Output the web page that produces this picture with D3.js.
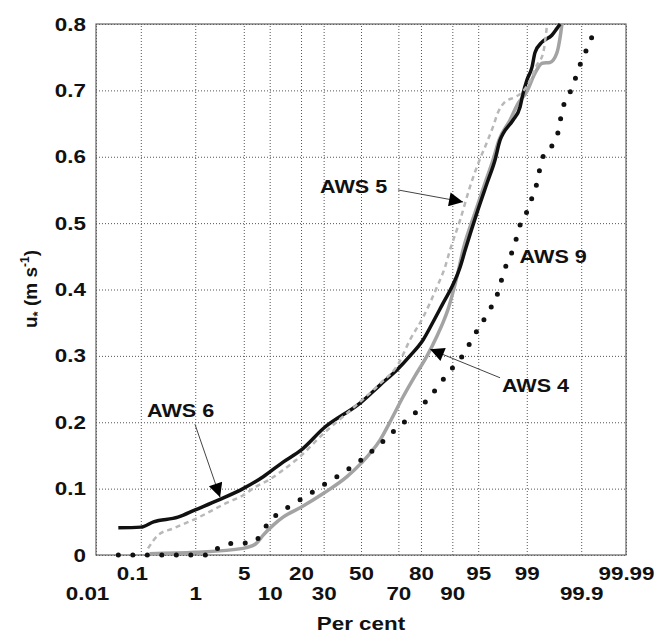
<!DOCTYPE html>
<html>
<head>
<meta charset="utf-8">
<script src="https://cdn.jsdelivr.net/npm/d3@7"></script>
<style>
  body { margin: 0; background: #fff; }
  svg text { font-family: "Liberation Sans", Arial, sans-serif; font-weight: bold; fill: #111; }
  /* the reference lettering is a little wider than plain Arial */
  .wide   { transform-box: fill-box; transform-origin: center;        transform: scaleX(1.18); }
  .wideR  { transform-box: fill-box; transform-origin: right center;  transform: scaleX(1.18); }
  .wideL  { transform-box: fill-box; transform-origin: left center;   transform: scaleX(1.2); }
</style>
</head>
<body>
<div id="chart"></div>
<script>
// probability axis ticks (per cent) and u* ticks
var xTicks = [0.01, 0.1, 1, 5, 10, 20, 30, 50, 70, 80, 90, 95, 99, 99.9, 99.99],
	xTickRow = [1, 0, 1, 0, 1, 0, 1, 0, 1, 0, 1, 0, 0, 1, 0], // 0 = upper row, 1 = lower row
	yTicks = [0, 0.1, 0.2, 0.3, 0.4, 0.5, 0.6, 0.7, 0.8];

// AWS 6 : black solid
var aws6Pct = [0.033, 0.1, 0.18, 0.51, 1, 2.3, 4.9, 8.5, 13.7, 20, 30, 50, 60.5, 70, 75.4, 80.8, 84.4, 87.5, 89.9, 91.8, 92.8, 94.8, 96.15, 97.0, 97.45, 97.7, 98.35, 98.72, 98.85, 99, 99.18, 99.27, 99.45, 99.63, 99.70, 99.74],
	aws6U   = [0.041, 0.042, 0.05, 0.057, 0.068, 0.083, 0.10, 0.118, 0.14, 0.158, 0.191, 0.23, 0.256, 0.281, 0.30, 0.324, 0.351, 0.379, 0.404, 0.434, 0.459, 0.515, 0.56, 0.595, 0.625, 0.635, 0.655, 0.675, 0.695, 0.715, 0.735, 0.757, 0.773, 0.783, 0.793, 0.80];

// AWS 4 : grey solid
var aws4Pct = [0.15, 1, 4.9, 7.0, 8.5, 10.9, 13.7, 20, 30, 42.2, 50, 60.5, 66.8, 72.2, 77.6, 82.3, 85.7, 87.5, 88.9, 89.9, 91.3, 92.4, 94.5, 95.9, 96.8, 97.36, 98.17, 98.62, 99, 99.27, 99.45, 99.60, 99.70, 99.74, 99.76],
	aws4U   = [0.002, 0.004, 0.01, 0.017, 0.03, 0.045, 0.057, 0.072, 0.093, 0.118, 0.138, 0.173, 0.206, 0.238, 0.27, 0.30, 0.33, 0.35, 0.37, 0.39, 0.425, 0.46, 0.515, 0.56, 0.595, 0.625, 0.655, 0.68, 0.698, 0.726, 0.741, 0.742, 0.756, 0.78, 0.80];

// AWS 5 : light grey dashed
var aws5Pct = [0.14, 0.22, 0.42, 1.15, 1.9, 2.9, 4.9, 7.0, 9.8, 13.7, 18.1, 30, 50, 60.5, 70, 75.4, 80.8, 85.7, 88.1, 89.4, 91.8, 93.7, 95.0, 96.15, 96.8, 97.28, 97.8, 98.47, 98.81, 99.12, 99.32, 99.47, 99.55],
	aws5U   = [0.01, 0.03, 0.04, 0.057, 0.068, 0.078, 0.09, 0.103, 0.113, 0.128, 0.143, 0.183, 0.232, 0.258, 0.288, 0.324, 0.358, 0.404, 0.434, 0.459, 0.505, 0.555, 0.59, 0.622, 0.645, 0.667, 0.682, 0.69, 0.697, 0.715, 0.738, 0.756, 0.80];

// AWS 9 : black dotted
var aws9Pct = [0.033, 1.65, 2.5, 4.0, 6.1, 8.0, 9.6, 12.2, 15.3, 19.6, 29.2, 39.5, 50, 60.5, 69.3, 77.6, 84.0, 88.9, 92.8, 94.2, 95.5, 96.4, 97.1, 97.5, 97.8, 98.2, 98.5, 98.7, 99.0, 99.18, 99.32, 99.40, 99.49, 99.68, 99.73, 99.76, 99.82, 99.86, 99.89, 99.92, 99.94],
	aws9U   = [0, 0, 0.014, 0.018, 0.018, 0.03, 0.048, 0.062, 0.072, 0.083, 0.104, 0.123, 0.143, 0.167, 0.191, 0.214, 0.242, 0.274, 0.306, 0.328, 0.349, 0.369, 0.387, 0.41, 0.43, 0.45, 0.473, 0.495, 0.517, 0.538, 0.56, 0.583, 0.604, 0.624, 0.645, 0.669, 0.691, 0.712, 0.735, 0.759, 0.78];

// labels: [text, text pct, text u, arrow tail pct, tail u, arrow tip pct, tip u]
var notes = [
	["AWS 5", 28.3, 0.545, 69.8, 0.55, 92.4, 0.532],
	["AWS 9", 98.7, 0.44, null, null, null, null],
	["AWS 6", 0.134, 0.208, 0.99, 0.197, 2.4, 0.087],
	["AWS 4", 97.6, 0.245, 97.45, 0.267, 83.4, 0.31]
];

var W = 655, H = 635,
	margin = {top: 24, right: 29, bottom: 80, left: 96},
	w = W - margin.left - margin.right,
	h = H - margin.top - margin.bottom;

// inverse normal cdf (Acklam)
function probit(p){
	var a = [-39.69683028665376, 220.9460984245205, -275.9285104469687, 138.3577518672690, -30.66479806614716, 2.506628277459239],
		b = [-54.47609879822406, 161.5858368580409, -155.6989798598866, 66.80131188771972, -13.28068155288572],
		c = [-0.007784894002430293, -0.3223964580411365, -2.400758277161838, -2.549732539343734, 4.374664141464968, 2.938163982698783],
		d = [0.007784695709041462, 0.3224671290700398, 2.445134137142996, 3.754408661907416],
		pl = 0.02425, q, r
	if (p < pl){
		q = Math.sqrt(-2 * Math.log(p))
		return (((((c[0]*q+c[1])*q+c[2])*q+c[3])*q+c[4])*q+c[5]) / ((((d[0]*q+d[1])*q+d[2])*q+d[3])*q+1)
	}
	if (p > 1 - pl){
		q = Math.sqrt(-2 * Math.log(1 - p))
		return -(((((c[0]*q+c[1])*q+c[2])*q+c[3])*q+c[4])*q+c[5]) / ((((d[0]*q+d[1])*q+d[2])*q+d[3])*q+1)
	}
	q = p - 0.5; r = q * q
	return (((((a[0]*r+a[1])*r+a[2])*r+a[3])*r+a[4])*r+a[5])*q / (((((b[0]*r+b[1])*r+b[2])*r+b[3])*r+b[4])*r+1)
}

var xz = d3.scaleLinear().domain([probit(0.0001), probit(0.9999)]).range([0, w]),
	x = function(pct){ return xz(probit(pct / 100)) },
	y = d3.scaleLinear().domain([0, 0.8]).range([h, 0]);

var svg = d3.select("#chart").append("svg")
	.attr("width", W)
	.attr("height", H)

var g = svg.append("g").attr("transform", "translate(" + margin.left + "," + margin.top + ")")

// grid
g.append("g")
	.attr("class", "grid")
	.attr("transform", "translate(0," + h + ")")
	.call(d3.axisBottom(xz).tickValues(xTicks.map(function(p){ return probit(p / 100) })).tickSize(-h).tickFormat(""))
g.append("g")
	.attr("class", "grid")
	.call(d3.axisLeft(y).tickValues(yTicks).tickSize(-w).tickFormat(""))
g.selectAll(".grid .domain").remove()
g.selectAll(".grid line")
	.attr("stroke", "#555")
	.attr("stroke-width", 1)
	.attr("stroke-dasharray", "1,2")

// frame
g.append("rect")
	.attr("width", w)
	.attr("height", h)
	.attr("fill", "none")
	.attr("stroke", "#666")
	.attr("stroke-width", 1.2)

// x axis labels (two rows)
var xAxis = g.append("g")
	.attr("transform", "translate(0," + h + ")")
	.call(d3.axisBottom(xz).tickValues(xTicks.map(function(p){ return probit(p / 100) }))
		.tickSize(0).tickFormat(function(d, i){ return xTicks[i] }))
xAxis.select(".domain").remove()
xAxis.selectAll("text")
	.attr("class", "wide")
	.attr("font-size", 19)
	.attr("dy", 0)
	.attr("dx", function(d, i){ return xTicks[i] < 1 ? -9 : 0 }) // the two smallest labels sit left of their lines
	.attr("y", function(d, i){ return xTickRow[i] ? 45 : 25 })

var yAxis = g.append("g")
	.call(d3.axisLeft(y).tickValues(yTicks).tickSize(0).tickPadding(10).tickFormat(d3.format("~g")))
yAxis.select(".domain").remove()
yAxis.selectAll("text").attr("class", "wideR").attr("font-size", 19)

svg.append("text")
	.attr("class", "wide")
	.attr("x", margin.left + w / 2)
	.attr("y", 630)
	.attr("text-anchor", "middle")
	.attr("font-size", 19)
	.text("Per cent")

var yTitle = svg.append("text")
	.attr("transform", "translate(37,289) rotate(-90)")
	.attr("text-anchor", "middle")
	.attr("font-size", 19)
yTitle.append("tspan").text("u")
yTitle.append("tspan").attr("font-size", 13).attr("dy", 5).text("*")
yTitle.append("tspan").attr("dy", -5).text(" (m s")
yTitle.append("tspan").attr("font-size", 12).attr("dy", -8).text("-1")
yTitle.append("tspan").attr("dy", 8).text(")")

// series
function series(pct, u){ return pct.map(function(p, i){ return [p, u[i]] }) }
var line = d3.line()
	.curve(d3.curveMonotoneX)
	.x(function(d){ return x(d[0]) })
	.y(function(d){ return y(d[1]) })

var plot = g.append("g")
plot.append("path").datum(series(aws4Pct, aws4U))
	.attr("d", line).attr("fill", "none")
	.attr("stroke", "#a3a3a3").attr("stroke-width", 3.5).attr("stroke-linejoin", "round")
plot.append("path").datum(series(aws6Pct, aws6U))
	.attr("d", line).attr("fill", "none")
	.attr("stroke", "#111").attr("stroke-width", 3.5).attr("stroke-linejoin", "round")
plot.append("path").datum(series(aws5Pct, aws5U))
	.attr("d", line).attr("fill", "none")
	.attr("stroke", "#b8b8b8").attr("stroke-width", 2.5).attr("stroke-dasharray", "5,4")
plot.append("path").datum(series(aws9Pct, aws9U))
	.attr("d", line).attr("fill", "none")
	.attr("stroke", "#111").attr("stroke-width", 5).attr("stroke-linecap", "round")
	.attr("stroke-dasharray", "0,14.5")

// annotations
svg.append("defs").append("marker")
	.attr("id", "head")
	.attr("viewBox", "0 0 10 10")
	.attr("refX", 10).attr("refY", 5)
	.attr("markerWidth", 19).attr("markerHeight", 14)
	.attr("markerUnits", "userSpaceOnUse")
	.attr("orient", "auto")
	.append("path").attr("d", "M0,0 L10,5 L0,10 Z").attr("fill", "#000")

notes.forEach(function(n){
	g.append("text")
		.attr("class", "wideL")
		.attr("x", x(n[1]))
		.attr("y", y(n[2]))
		.attr("font-size", 18)
		.text(n[0])
	if (n[3] !== null){
		g.append("line")
			.attr("x1", x(n[3])).attr("y1", y(n[4]))
			.attr("x2", x(n[5])).attr("y2", y(n[6]))
			.attr("stroke", "#444").attr("stroke-width", 1)
			.attr("marker-end", "url(#head)")
	}
})
</script>
</body>
</html>
